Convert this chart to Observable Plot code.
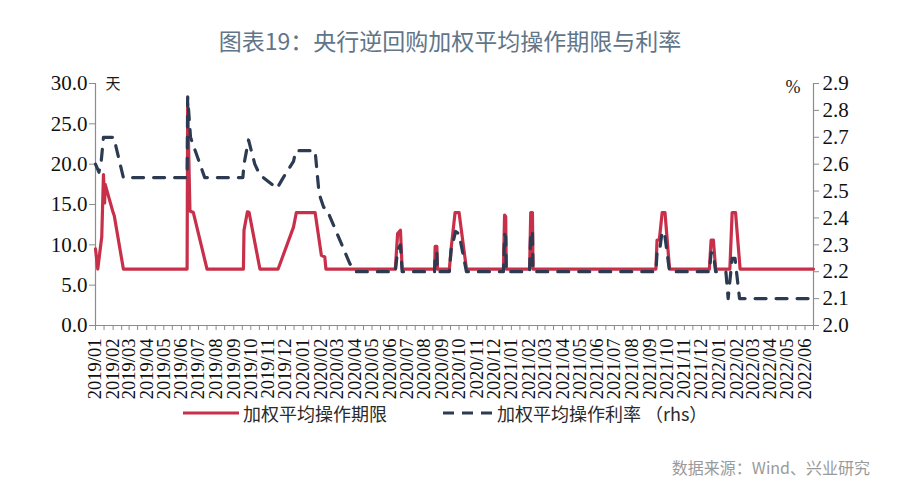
<!DOCTYPE html>
<html><head><meta charset="utf-8">
<script src="https://cdn.jsdelivr.net/npm/d3@7"></script>
<script src="https://cdn.jsdelivr.net/npm/@observablehq/plot@0.6"></script>
<style>
body{margin:0;background:#fff;width:900px;height:491px;position:relative;overflow:hidden;font-family:"Noto Sans CJK SC","Noto Sans",sans-serif;}
#title{position:absolute;left:0;top:24px;width:900px;text-align:center;font-size:23px;line-height:32px;color:#627588;}
#chart{position:absolute;left:0;top:60px;}
.leg{position:absolute;font-size:18px;line-height:24px;color:#2a2a2a;white-space:nowrap;}
.legsw{position:absolute;}
#source{position:absolute;right:30px;top:456px;font-size:16px;line-height:22px;color:#9a9a9a;}
</style></head>
<body>
<div id="title">图表19：央行逆回购加权平均操作期限与利率</div>
<div id="chart"></div>
<svg class="legsw" style="left:183px;top:407px" width="56" height="12"><line x1="0" x2="56" y1="6" y2="6" stroke="#c8304a" stroke-width="3.2"/></svg>
<div class="leg" style="left:243px;top:401px">加权平均操作期限</div>
<svg class="legsw" style="left:443px;top:407px" width="50" height="12"><line x1="0" x2="50" y1="6" y2="6" stroke="#2c3a52" stroke-width="3.2" stroke-dasharray="11,8"/></svg>
<div class="leg" style="left:497px;top:401px">加权平均操作利率 （rhs）</div>
<div id="source">数据来源：Wind、兴业研究</div>
<script>
// 加权平均操作期限（天）
const termDates = ["2019-01-01","2019-01-05","2019-01-12","2019-01-15","2019-01-17","2019-01-18","2019-02-01","2019-02-03","2019-02-19",
"2019-06-11","2019-06-12","2019-06-16","2019-06-22","2019-07-16",
"2019-09-18","2019-09-19","2019-09-25","2019-09-28","2019-10-17",
"2019-11-18","2019-12-15","2019-12-20","2020-01-22","2020-02-02","2020-02-08","2020-02-10",
"2020-06-11","2020-06-15","2020-06-20","2020-06-23",
"2020-08-19","2020-08-20","2020-08-23","2020-08-24",
"2020-09-14","2020-09-17","2020-09-24","2020-10-01","2020-10-14",
"2020-12-18","2020-12-20","2020-12-22","2020-12-23",
"2021-02-02","2021-02-04","2021-02-07","2021-02-08",
"2021-09-12","2021-09-14","2021-09-18","2021-09-23","2021-09-28","2021-10-06",
"2021-12-15","2021-12-18","2021-12-22","2021-12-26",
"2022-01-20","2022-01-24","2022-01-30","2022-02-07","2022-06-16"];
const termDays = [9.5,7,11,18.7,15.2,17.5,14,13.6,7,
7,27.5,14.2,14,7,
7,11.8,14.1,14,7,
7,12.2,14,14,8.7,8.5,7,
7,11.4,11.8,7,
7,9.8,9.8,7,
7,9.5,14,14,7,
7,13.7,13.5,7,
7,14,14,7,
7,10.6,10.6,14,14,7,
7,10.6,10.6,7,
7,14,14,7,7];

// 加权平均操作利率（%，右轴）
const rateDates = ["2019-01-01","2019-01-07","2019-01-11","2019-01-15","2019-02-02","2019-02-19",
"2019-06-11","2019-06-12","2019-06-17","2019-07-12",
"2019-09-17","2019-09-19","2019-09-27","2019-10-08","2019-10-17","2019-11-10","2019-11-16","2019-11-27","2019-12-15","2019-12-19",
"2020-01-22","2020-01-29","2020-02-06","2020-02-12","2020-03-23","2020-04-02",
"2020-06-11","2020-06-15","2020-06-20","2020-06-23",
"2020-08-19","2020-08-20","2020-08-23","2020-08-24",
"2020-09-14","2020-09-17","2020-09-25","2020-10-01","2020-10-14",
"2020-12-18","2020-12-20","2020-12-22","2020-12-23",
"2021-02-02","2021-02-04","2021-02-07","2021-02-08",
"2021-09-12","2021-09-14","2021-09-18","2021-09-23","2021-09-28","2021-10-06",
"2021-12-15","2021-12-18","2021-12-22","2021-12-26",
"2022-01-13","2022-01-17","2022-01-24","2022-01-29","2022-02-06","2022-06-16"];
const rateValues = [2.60,2.57,2.61,2.70,2.70,2.55,
2.55,2.85,2.70,2.55,
2.55,2.60,2.69,2.60,2.56,2.52,2.51,2.55,2.61,2.65,
2.65,2.49,2.44,2.43,2.23,2.20,
2.20,2.28,2.30,2.20,
2.20,2.27,2.27,2.20,
2.20,2.28,2.35,2.34,2.20,
2.20,2.34,2.33,2.20,
2.20,2.35,2.35,2.20,
2.20,2.27,2.27,2.35,2.33,2.20,
2.20,2.27,2.27,2.20,
2.20,2.10,2.25,2.25,2.10,2.10];

const leftTicks = [0,5,10,15,20,25,30];
const rateTicks = [2.0,2.1,2.2,2.3,2.4,2.5,2.6,2.7,2.8,2.9];
const xStart = new Date("2019-01-01"), xEnd = new Date("2022-06-16");

const rMin = 2.0, rMax = 2.9, lMax = 30;
const toY = r => (r - rMin) / (rMax - rMin) * lMax;
const fromY = v => rMin + v / lMax * (rMax - rMin);

const termRows = termDates.map((d,i) => ({date: new Date(d), v: termDays[i]}));
const rateRows = rateDates.map((d,i) => ({date: new Date(d), r: rateValues[i]}));
const monthTicks = d3.utcMonths(xStart, d3.utcDay.offset(xEnd, 1));
const midTicks = monthTicks.map(d => d3.utcDay.offset(d, 15));

const RED = "#c8304a", NAVY = "#2c3a52", AX = "#8c8c8c";
const SERIF = '"Liberation Serif","Times New Roman",serif';
const CJK = '"Noto Sans CJK SC",sans-serif';

const chart = Plot.plot({
  width: 900, height: 345,
  marginLeft: 95, marginRight: 87, marginTop: 23, marginBottom: 80,
  style: {fontFamily: SERIF, color: "#1a1a1a", background: "transparent"},
  x: {type: "utc", domain: [xStart, xEnd], label: null},
  y: {domain: [0, lMax], label: null},
  marks: [
    Plot.ruleX([xStart, xEnd], {stroke: AX, strokeWidth: 1.2}),
    Plot.ruleY([0], {stroke: AX, strokeWidth: 1.2}),
    Plot.axisY({anchor: "left", ticks: leftTicks, tickFormat: d3.format(".1f"), tickSize: 6, tickPadding: 2, fontSize: 21, fontFamily: SERIF, stroke: AX, fill: "#111", label: null}),
    Plot.axisY({anchor: "right", ticks: rateTicks.map(toY), tickFormat: d => fromY(d).toFixed(1), tickSize: 5, tickPadding: 4, fontSize: 21, fontFamily: SERIF, stroke: AX, fill: "#111", label: null}),
    Plot.axisX({ticks: monthTicks, tickFormat: d3.utcFormat("%Y/%m"), tickRotate: -90, tickSize: 5, tickPadding: 8, fontSize: 18.5, fontFamily: SERIF, stroke: AX, fill: "#111", label: null}),
    Plot.axisX({ticks: midTicks, tickFormat: () => "", tickSize: 5, stroke: AX, label: null}),
    Plot.line(termRows, {x: "date", y: "v", stroke: RED, strokeWidth: 3.2, strokeLinejoin: "round"}),
    Plot.line(rateRows, {x: "date", y: d => toY(d.r), stroke: NAVY, strokeWidth: 3.2, strokeDasharray: "11,10"}),
    Plot.text(["天"], {frameAnchor: "top-left", dx: 10, dy: -5, fontSize: 15, fontFamily: CJK, fill: "#1a1a1a"}),
    Plot.text(["%"], {frameAnchor: "top-right", dx: -13, dy: -3, fontSize: 18, fill: "#1a1a1a"})
  ]
});
document.getElementById("chart").appendChild(chart);
</script>
</body></html>
